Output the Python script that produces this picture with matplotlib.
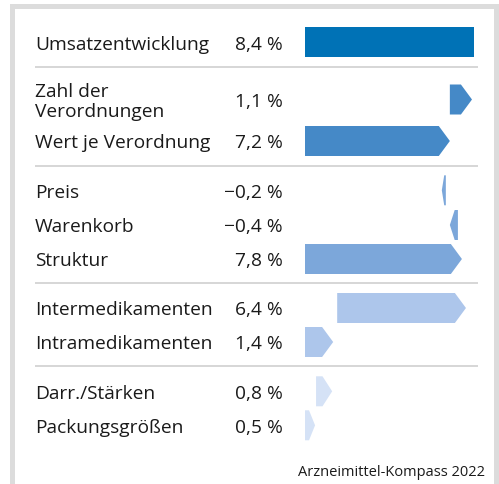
import matplotlib
matplotlib.use("Agg")
import matplotlib.pyplot as plt
from matplotlib.patches import Polygon, Rectangle

# ---- data ----
labels = ["Umsatzentwicklung", "Zahl der\nVerordnungen", "Wert je Verordnung",
          "Preis", "Warenkorb", "Struktur",
          "Intermedikamenten", "Intramedikamenten",
          "Darr./Stärken", "Packungsgrößen"]
values = [8.4, 1.1, 7.2, -0.2, -0.4, 7.8, 6.4, 1.4, 0.8, 0.5]
starts = [0.0, 7.2, 0.0, 7.0, 7.6, 0.0, 1.6, 0.0, 0.55, 0.0]
value_labels = ["8,4 %", "1,1 %", "7,2 %", "\u22120,2 %", "\u22120,4 %", "7,8 %",
                "6,4 %", "1,4 %", "0,8 %", "0,5 %"]
source = "Arzneimittel-Kompass 2022"

# ---- style / layout ----
colors = ["#0072B6", "#4589C7", "#4589C7", "#7CA7DA", "#7CA7DA", "#7CA7DA",
          "#ADC6EB", "#ADC6EB", "#D5E2F6", "#D5E2F6"]
row_y = [43.4, 100.5, 142.0, 191.3, 226.0, 260.0, 309.0, 343.0, 392.3, 426.3]
sep_y = [68.3, 166.7, 284.0, 367.3]
W, H = 499, 485
FONT = ["Open Sans", "DejaVu Sans"]
FS = 13.8

fig = plt.figure(figsize=(W / 100, H / 100), dpi=100)
fig.patch.set_facecolor("white")

# background axes in pixel coordinates
bg = fig.add_axes([0, 0, 1, 1])
bg.set_xlim(0, W)
bg.set_ylim(H, 0)
bg.axis("off")
frame_c = "#DCDCDC"
bg.add_patch(Rectangle((10, 5), 5, H - 5, color=frame_c, lw=0))
bg.add_patch(Rectangle((10, 5), W - 10, 5, color=frame_c, lw=0))
bg.add_patch(Rectangle((494, 5), 5, H - 5, color=frame_c, lw=0))
for y in sep_y:
    bg.plot([35, 478], [y, y], color="#CCCCCC", lw=1.1, solid_capstyle="butt")

for lab, vl, y in zip(labels, value_labels, row_y):
    bg.text(35, y + 1.5, lab, ha="left", va="center", fontsize=FS,
            family=FONT, color="#1a1a1a", linespacing=1.2)
    bg.text(283, y + 1.5, vl, ha="right", va="center", fontsize=FS,
            family=FONT, color="#1a1a1a")
bg.text(485, 476, source, ha="right", va="baseline", fontsize=10.5,
        family=FONT, color="#1a1a1a")

# bar axes in data units
x0_px, x1_px = 305, 474
ax = fig.add_axes([x0_px / W, 0, (x1_px - x0_px) / W, 1])
ax.set_xlim(0, 8.4)
ax.set_ylim(H, 0)
ax.axis("off")
ax.patch.set_alpha(0)

bar_h = 30.0
head_full = 0.55
for i, (s, v, y, c) in enumerate(zip(starts, values, row_y, colors)):
    top, bot = y - bar_h / 2, y + bar_h / 2
    if i == 0:
        ax.add_patch(Rectangle((s, top), v, bar_h, color=c, lw=0))
        continue
    w = abs(v)
    hd = min(head_full, 0.6 * w)
    d = 1 if v > 0 else -1
    e = s + v
    pts = [(s, top), (e - d * hd, top), (e, y), (e - d * hd, bot), (s, bot)]
    ax.add_patch(Polygon(pts, closed=True, color=c, lw=0))

fig.savefig("out.png", dpi=100, facecolor="white")
